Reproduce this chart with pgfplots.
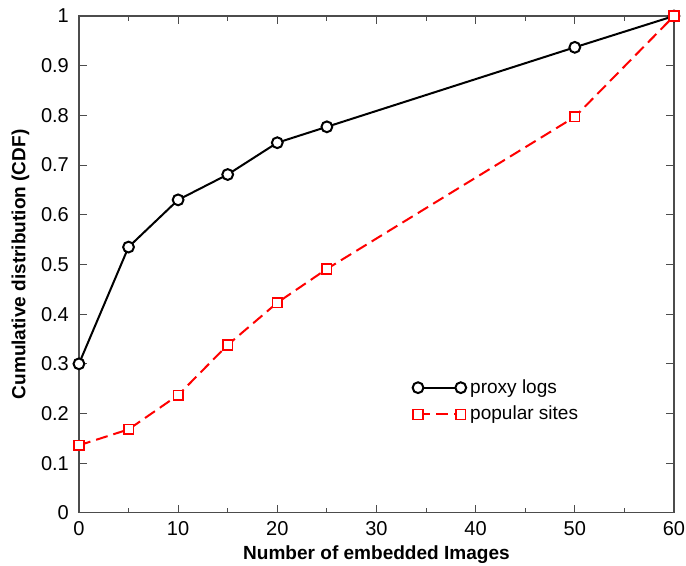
\documentclass[border=0pt]{standalone}
\usepackage{pgfplots}
\pgfplotsset{compat=1.18}
\usetikzlibrary{calc}
\usepackage{fontspec}
\setmainfont{Liberation Sans}

\begin{document}
\begin{tikzpicture}
\begin{axis}[
    name=ax,
    scale only axis,
    width=297pt,
    height=248pt,
    xmin=0, xmax=60,
    ymin=0, ymax=1,
    xtick={0,10,20,30,40,50,60},
    minor xtick={5,15,25,35,45,55},
    ytick={0,0.1,0.2,0.3,0.4,0.5,0.6,0.7,0.8,0.9,1},
    yticklabels={0,0.1,0.2,0.3,0.4,0.5,0.6,0.7,0.8,0.9,1},
    tick align=inside,
    major tick length=4pt,
    minor tick length=2.5pt,
    tick style={black!70, line width=0.5pt},
    axis line style={black!70, line width=0.6pt},
    ticklabel style={font=\fontsize{10}{11}\selectfont},
    yticklabel style={xshift=-1.5pt},
    xticklabel style={yshift=-1pt},
    /pgf/number format/assume math mode=true,
    xlabel={\bfseries Number of embedded Images},
    ylabel={\bfseries Cumulative distribution (CDF)},
    label style={font=\fontsize{9.5}{11}\selectfont},
    xlabel style={yshift=2pt},
    ylabel style={yshift=-1pt},
    clip=false,
    legend style={draw=none, fill=none, at={(0.55,0.225)}, anchor=west,
        font=\fontsize{9.5}{11}\selectfont, row sep=1pt},
    legend cell align=left,
    legend image code/.code={
        \draw[mark=none] (0cm,0cm) -- (0.75cm,0cm);
        \draw[only marks] plot coordinates {(0cm,0cm) (0.75cm,0cm)};
    },
]
\addplot[black, line width=1pt, mark=*, mark size=2.7pt, mark options={solid, line width=1pt, draw=black, fill=white}]
coordinates {(0,0.300) (5,0.535) (10,0.630) (15,0.681) (20,0.745) (25,0.777) (50,0.937) (60,1.000)};
\addlegendentry{proxy logs}
\addplot[red, line width=1pt, dash pattern=on 6pt off 3pt, mark=square*, mark size=2.4pt, mark options={solid, line width=0.8pt, draw=red, fill=white}]
coordinates {(0,0.136) (5,0.168) (10,0.237) (15,0.338) (20,0.423) (25,0.491) (50,0.797) (60,1.000)};
\addlegendentry{popular sites}
\end{axis}
\pgfresetboundingbox
\path ($(ax.south west)+(-39.4pt,-26.5pt)$) rectangle ($(ax.north east)+(6pt,8pt)$);
\end{tikzpicture}
\end{document}
